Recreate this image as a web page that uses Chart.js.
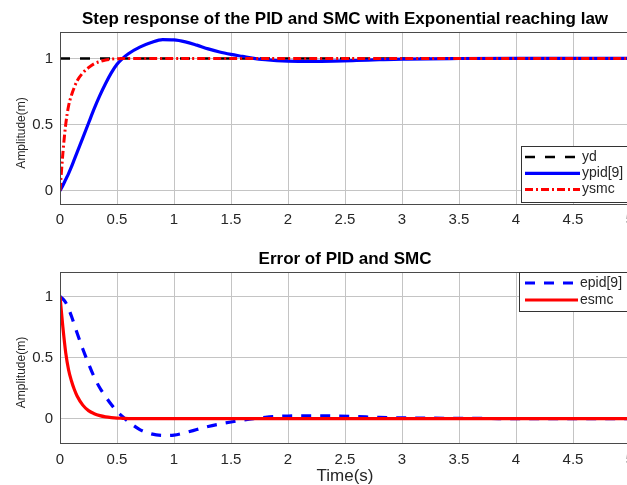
<!DOCTYPE html>
<html>
<head>
<meta charset="utf-8">
<script src="https://cdn.jsdelivr.net/npm/chart.js@4.4.0/dist/chart.umd.min.js"></script>
<style>
  html, body { margin: 0; padding: 0; background: #fff; overflow: hidden; width: 627px; height: 485px; }
  #topChart { position: absolute; left: 0; top: 0; }
  #bottomChart { position: absolute; left: 0; top: 235px; }
</style>
</head>
<body>
<canvas id="topChart" width="690" height="235"></canvas>
<canvas id="bottomChart" width="690" height="252"></canvas>
<script>
// time axis (s) shared by the simulated curves
const timeS = [0, 0.025, 0.05, 0.075, 0.1, 0.125, 0.15, 0.2, 0.25, 0.3, 0.35, 0.4, 0.45, 0.5, 0.55, 0.6,
  0.7, 0.8, 0.9, 1.0, 1.1, 1.2, 1.3, 1.4, 1.5, 1.6, 1.7, 1.8, 1.9, 2.0, 2.2, 2.4, 2.6, 2.8, 3.0, 3.5, 4.0, 4.5, 5.0];

// step response (top)
const ydTime = [0, 5];
const yd = [1, 1];
const ypid = [0, 0.04, 0.085, 0.13, 0.18, 0.235, 0.29, 0.40, 0.51, 0.62, 0.72, 0.81, 0.89, 0.955, 1.0, 1.035,
  1.085, 1.12, 1.142, 1.14, 1.125, 1.10, 1.072, 1.048, 1.03, 1.015, 1.0, 0.99, 0.983, 0.979, 0.977, 0.979, 0.984, 0.99, 0.995, 0.999, 1, 1, 1];
const ysmc = [0, 0.28, 0.5, 0.64, 0.72, 0.78, 0.83, 0.89, 0.93, 0.96, 0.976, 0.988, 0.994, 0.998, 1, 1,
  1, 1, 1, 1, 1, 1, 1, 1, 1, 1, 1, 1, 1, 1, 1, 1, 1, 1, 1, 1, 1, 1, 1];

// tracking error (bottom)
const epid = [1, 0.98, 0.95, 0.9, 0.84, 0.77, 0.70, 0.57, 0.45, 0.34, 0.25, 0.18, 0.115, 0.06, 0.015, -0.025,
  -0.09, -0.125, -0.138, -0.135, -0.115, -0.09, -0.065, -0.045, -0.028, -0.013, 0.0, 0.01, 0.017, 0.021, 0.023, 0.021, 0.016, 0.01, 0.006, 0.002, 0, 0, 0];
const esmc = [1, 0.75, 0.54, 0.4, 0.31, 0.24, 0.185, 0.11, 0.065, 0.04, 0.024, 0.014, 0.008, 0.004, 0.002, 0,
  0, 0, 0, 0, 0, 0, 0, 0, 0, 0, 0, 0, 0, 0, 0, 0, 0, 0, 0, 0, 0, 0, 0];

const xTicks = [0, 0.5, 1, 1.5, 2, 2.5, 3, 3.5, 4, 4.5, 5];
const yTicks = [0, 0.5, 1];

Chart.defaults.font.family = '"Liberation Sans", Arial, sans-serif';
Chart.defaults.color = '#262626';

function pts(times, vals) {
  return times.map((t, i) => ({ x: t, y: vals[i] }));
}

// axes box drawn on top, like matlab
const frame = {
  id: 'frame',
  afterDatasetsDraw(chart) {
    const { ctx, chartArea: a } = chart;
    ctx.save();
    ctx.strokeStyle = '#4a4a4a';
    ctx.lineWidth = 1;
    ctx.strokeRect(Math.round(a.left) + 0.5, Math.round(a.top) + 0.5,
      Math.round(a.right - a.left), Math.round(a.bottom - a.top));
    ctx.restore();
  }
};

// legend inside the plot area
const boxLegend = {
  id: 'boxLegend',
  afterDraw(chart, args, o) {
    const ctx = chart.ctx;
    ctx.save();
    ctx.fillStyle = '#fff';
    ctx.fillRect(o.left, o.top, o.right - o.left, o.bottom - o.top);
    ctx.strokeStyle = '#333';
    ctx.lineWidth = 1;
    ctx.strokeRect(o.left + 0.5, o.top + 0.5, o.right - o.left, o.bottom - o.top);
    ctx.font = '14px "Liberation Sans", Arial, sans-serif';
    ctx.textBaseline = 'middle';
    chart.data.datasets.forEach((ds, i) => {
      const y = o.firstRow + i * o.rowGap;
      ctx.beginPath();
      ctx.setLineDash(ds.borderDash || []);
      ctx.strokeStyle = ds.borderColor;
      ctx.lineWidth = ds.borderWidth;
      ctx.moveTo(o.lineFrom, y);
      ctx.lineTo(o.lineTo, y);
      ctx.stroke();
      ctx.setLineDash([]);
      ctx.fillStyle = '#262626';
      ctx.fillText(ds.label, o.lineTo + 2, y);
    });
    ctx.restore();
  }
};

function makeOptions(cfg) {
  return {
    responsive: false,
    animation: false,
    devicePixelRatio: 1,
    layout: { padding: { left: 0, right: 60, top: 0, bottom: 0 } },
    elements: { point: { radius: 0 }, line: { cubicInterpolationMode: 'monotone' } },
    plugins: {
      legend: { display: false },
      tooltip: { enabled: false },
      title: {
        display: true, text: cfg.title, fullSize: false, color: '#000',
        font: { size: 17, weight: 'bold' }, padding: cfg.titlePad
      },
      boxLegend: cfg.legend
    },
    scales: {
      x: {
        type: 'linear', min: 0, max: 5,
        afterBuildTicks: s => { s.ticks = xTicks.map(v => ({ value: v })); },
        afterFit: s => { s.height = cfg.xHeight; },
        ticks: { font: { size: 15 }, padding: cfg.xPad, maxRotation: 0, autoSkip: false, callback: v => String(v) },
        grid: { color: '#c4c4c4', drawTicks: false },
        border: { display: false },
        title: cfg.xTitle ? { display: true, text: cfg.xTitle, font: { size: 17 }, padding: { top: 0, bottom: 0 } } : { display: false }
      },
      y: {
        min: cfg.yMin, max: 1.2,
        afterBuildTicks: s => { s.ticks = yTicks.map(v => ({ value: v })); },
        afterFit: s => { s.width = 60; },
        ticks: { font: { size: 15 }, padding: 7, callback: v => String(v) },
        grid: { color: '#c4c4c4', drawTicks: false },
        border: { display: false },
        title: { display: true, text: 'Amplitude(m)         ', font: { size: 12 }, padding: { top: 14, bottom: 0 } }
      }
    }
  };
}

new Chart(document.getElementById('topChart'), {
  type: 'line',
  data: {
    datasets: [
      { label: 'yd', data: pts(ydTime, yd), borderColor: '#000', borderWidth: 2.5, borderDash: [10, 10], order: 3 },
      { label: 'ypid[9]', data: pts(timeS, ypid), borderColor: '#0000ff', borderWidth: 3.2, order: 2 },
      { label: 'ysmc', data: pts(timeS, ysmc), borderColor: '#ff0000', borderWidth: 3, borderDash: [8, 3, 2, 3], order: 1 }
    ]
  },
  options: makeOptions({
    title: 'Step response of the PID and SMC with Exponential reaching law',
    titlePad: { top: 9, bottom: 2.5 },
    yMin: -0.1, xHeight: 31, xPad: 6.5,
    legend: { left: 521, top: 146, right: 628, bottom: 202, firstRow: 157, rowGap: 16.3, lineFrom: 525, lineTo: 580 }
  }),
  plugins: [frame, boxLegend]
});

new Chart(document.getElementById('bottomChart'), {
  type: 'line',
  data: {
    datasets: [
      { label: 'epid[9]', data: pts(timeS, epid), borderColor: '#0000ff', borderWidth: 3.2, borderDash: [10, 9], order: 2 },
      { label: 'esmc', data: pts(timeS, esmc), borderColor: '#ff0000', borderWidth: 3.2, order: 1 }
    ]
  },
  options: makeOptions({
    title: 'Error of PID and SMC',
    titlePad: { top: 14, bottom: 2.6 },
    yMin: -0.2, xHeight: 44, xPad: 8, xTitle: 'Time(s)',
    legend: { left: 519, top: 37, right: 628, bottom: 76, firstRow: 48, rowGap: 17, lineFrom: 525, lineTo: 578 }
  }),
  plugins: [frame, boxLegend]
});
</script>
</body>
</html>
